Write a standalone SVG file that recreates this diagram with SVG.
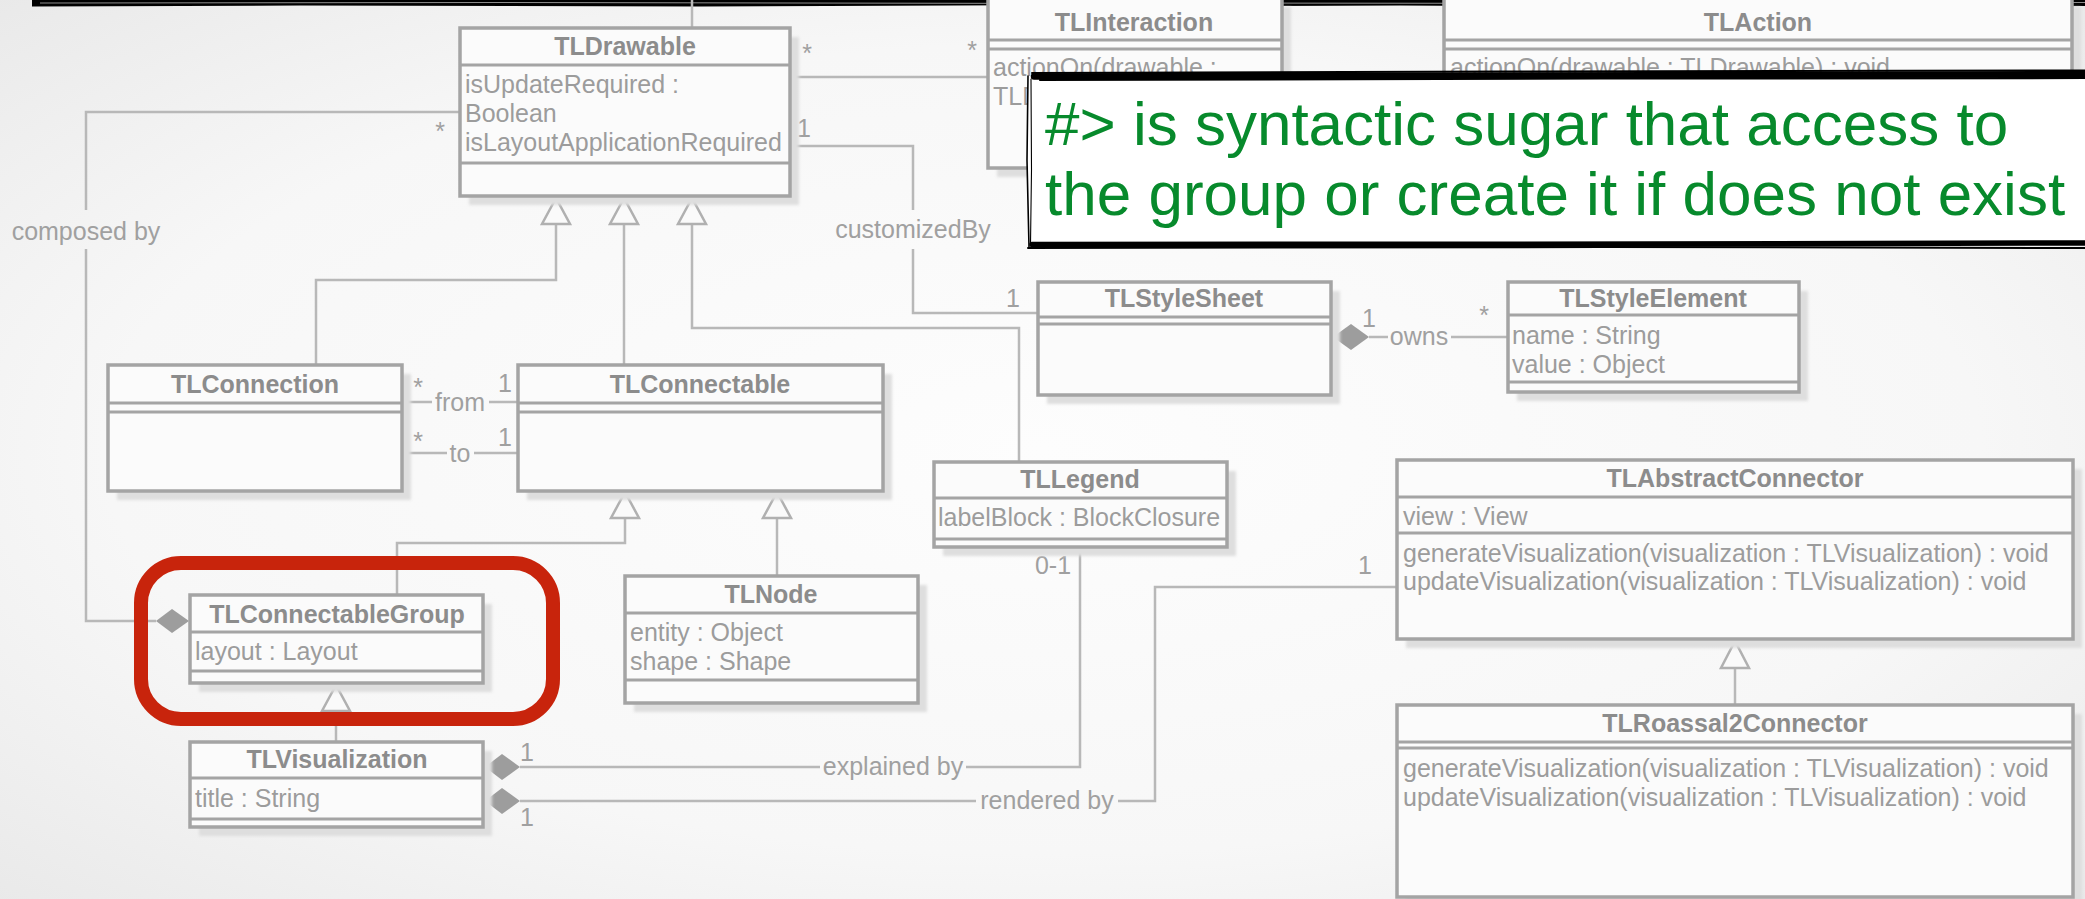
<svg xmlns="http://www.w3.org/2000/svg" width="2085" height="899" viewBox="0 0 2085 899">
<defs>
  <radialGradient id="bg" cx="0.5" cy="0.5" r="0.75">
    <stop offset="0" stop-color="#fdfdfd"/>
    <stop offset="0.6" stop-color="#f7f7f7"/>
    <stop offset="1" stop-color="#e7e7e7"/>
  </radialGradient>
  <filter id="soft" x="-5%" y="-5%" width="110%" height="110%">
    <feGaussianBlur stdDeviation="1.5"/>
  </filter>
  <style>
    .shadow{fill:#dedede;filter:url(#soft)}
    .box{fill:#fbfbfb;stroke:#a4a4a4;stroke-width:3.5}
    .sep{stroke:#a4a4a4;stroke-width:3}
    .title{font-family:'Liberation Sans',Arial,sans-serif;font-weight:bold;font-size:25px;fill:#8c8c8c;text-anchor:middle}
    .attr{font-family:'Liberation Sans',Arial,sans-serif;font-size:25px;fill:#9c9c9c}
    .lbl{font-family:'Liberation Sans',Arial,sans-serif;font-size:25px;fill:#a0a0a0;text-anchor:middle}
    .wire{fill:none;stroke:#b8b8b8;stroke-width:2.5}
    .tri{fill:#fafafa;stroke:#b0b0b0;stroke-width:2.5}
    .dia{fill:#9d9d9d}
    .ink{fill:none;stroke:#000;stroke-linecap:round}
    .note{font-family:'Liberation Sans',Arial,sans-serif;font-size:62px;fill:#078a2c}
  </style>
</defs>

<rect width="2085" height="899" fill="url(#bg)"/>

<!-- sketchy edge of the frame above -->
<g id="frame-edge">
  <path d="M32,0 H1099 L1099,5 L700,6.5 L300,5.5 L32,6.5 Z" fill="#000"/>
  <path d="M1149,0 H2085 V6 L1700,7 L1400,5.5 L1149,6.5 Z" fill="#000"/>
  <path d="M40,3 L500,2.5 L1090,3.5" stroke="#fff" stroke-width="0.8" fill="none" opacity="0.7"/>
  <path d="M1160,3 L1700,3.5 L2085,2.5" stroke="#fff" stroke-width="0.8" fill="none" opacity="0.7"/>
</g>

<!-- associations, generalizations and their labels -->
<g id="connectors">
  <path class="wire" d="M790,77 H988"/>
  <path class="wire" d="M692,28 V0"/>
  <path class="wire" d="M460,112 H86 V210 M86,249 V621 H156"/>
  <path class="wire" d="M790,146 H913 V210 M913,249 V313 H1038"/>
  <path class="wire" d="M556,224 V280 H316 V365"/>
  <path class="wire" d="M624,224 V365"/>
  <path class="wire" d="M692,224 V328 H1019 V462"/>
  <path class="wire" d="M402,402 H432 M489,402 H518"/>
  <path class="wire" d="M402,453 H447 M474,453 H518"/>
  <path class="wire" d="M1369,337 H1388 M1451,337 H1508"/>
  <path class="wire" d="M625,518 V543 H397 V595"/>
  <path class="wire" d="M777,518 V576"/>
  <path class="wire" d="M336,711 V742"/>
  <path class="wire" d="M520,767 H820 M966,767 H1080 V547"/>
  <path class="wire" d="M520,801 H976 M1118,801 H1155 V587 H1397"/>
  <path class="wire" d="M1735,668 V705"/>

  <polygon class="tri" points="556,198 542,224 570,224"/>
  <polygon class="tri" points="624,198 610,224 638,224"/>
  <polygon class="tri" points="692,198 678,224 706,224"/>
  <polygon class="tri" points="625,492 611,518 639,518"/>
  <polygon class="tri" points="777,492 763,518 791,518"/>
  <polygon class="tri" points="336,685 322,711 350,711"/>
  <polygon class="tri" points="1735,641 1721,668 1749,668"/>

  <polygon class="dia" points="156,621 172,609 189,621 172,633"/>
  <polygon class="dia" points="1333,337 1351,324 1369,337 1351,350"/>
  <polygon class="dia" points="485,767 502,754 520,767 502,780"/>
  <polygon class="dia" points="485,801 502,788 520,801 502,814"/>

  <text class="lbl" x="807" y="62">*</text>
  <text class="lbl" x="972" y="59">*</text>
  <text class="lbl" x="440" y="140">*</text>
  <text class="lbl" x="804" y="137">1</text>
  <text class="lbl" x="86" y="240">composed by</text>
  <text class="lbl" x="913" y="238">customizedBy</text>
  <text class="lbl" x="1013" y="307">1</text>
  <text class="lbl" x="418" y="396">*</text>
  <text class="lbl" x="505" y="392">1</text>
  <text class="lbl" x="460" y="411">from</text>
  <text class="lbl" x="418" y="450">*</text>
  <text class="lbl" x="505" y="446">1</text>
  <text class="lbl" x="460" y="462">to</text>
  <text class="lbl" x="1369" y="327">1</text>
  <text class="lbl" x="1484" y="324">*</text>
  <text class="lbl" x="1419" y="345">owns</text>
  <text class="lbl" x="1053" y="574">0-1</text>
  <text class="lbl" x="1365" y="574">1</text>
  <text class="lbl" x="527" y="761">1</text>
  <text class="lbl" x="527" y="826">1</text>
  <text class="lbl" x="893" y="775">explained by</text>
  <text class="lbl" x="1047" y="809">rendered by</text>
</g>

<g id="TLDrawable">
  <rect class="shadow" x="469" y="37" width="330" height="168"/>
  <rect class="box" x="460" y="28" width="330" height="168"/>
  <line class="sep" x1="460" y1="65" x2="790" y2="65"/>
  <line class="sep" x1="460" y1="163" x2="790" y2="163"/>
  <text class="title" x="625" y="55">TLDrawable</text>
  <text class="attr" x="465" y="93">isUpdateRequired :</text>
  <text class="attr" x="465" y="122">Boolean</text>
  <text class="attr" x="465" y="151">isLayoutApplicationRequired</text>
</g>

<g id="TLInteraction">
  <rect class="shadow" x="997" y="7" width="294" height="170"/>
  <rect class="box" x="988" y="-2" width="294" height="170"/>
  <line class="sep" x1="988" y1="40" x2="1282" y2="40"/>
  <line class="sep" x1="988" y1="49" x2="1282" y2="49"/>
  <text class="title" x="1134" y="31">TLInteraction</text>
  <text class="attr" x="993" y="76">actionOn(drawable :</text>
  <text class="attr" x="993" y="105">TLD</text>
</g>

<g id="TLAction">
  <rect class="shadow" x="1453" y="7" width="628" height="170"/>
  <rect class="box" x="1444" y="-2" width="628" height="170"/>
  <line class="sep" x1="1444" y1="40" x2="2072" y2="40"/>
  <line class="sep" x1="1444" y1="49" x2="2072" y2="49"/>
  <text class="title" x="1758" y="31">TLAction</text>
  <text class="attr" x="1450" y="76">actionOn(drawable : TLDrawable) : void</text>
</g>

<g id="TLConnection">
  <rect class="shadow" x="117" y="374" width="294" height="126"/>
  <rect class="box" x="108" y="365" width="294" height="126"/>
  <line class="sep" x1="108" y1="403" x2="402" y2="403"/>
  <line class="sep" x1="108" y1="412" x2="402" y2="412"/>
  <text class="title" x="255" y="393">TLConnection</text>
</g>

<g id="TLConnectable">
  <rect class="shadow" x="527" y="374" width="365" height="126"/>
  <rect class="box" x="518" y="365" width="365" height="126"/>
  <line class="sep" x1="518" y1="403" x2="883" y2="403"/>
  <line class="sep" x1="518" y1="412" x2="883" y2="412"/>
  <text class="title" x="700" y="393">TLConnectable</text>
</g>

<g id="TLStyleSheet">
  <rect class="shadow" x="1047" y="291" width="293" height="113"/>
  <rect class="box" x="1038" y="282" width="293" height="113"/>
  <line class="sep" x1="1038" y1="317" x2="1331" y2="317"/>
  <line class="sep" x1="1038" y1="324" x2="1331" y2="324"/>
  <text class="title" x="1184" y="307">TLStyleSheet</text>
</g>

<g id="TLStyleElement">
  <rect class="shadow" x="1517" y="291" width="291" height="110"/>
  <rect class="box" x="1508" y="282" width="291" height="110"/>
  <line class="sep" x1="1508" y1="315" x2="1799" y2="315"/>
  <line class="sep" x1="1508" y1="382" x2="1799" y2="382"/>
  <text class="title" x="1653" y="307">TLStyleElement</text>
  <text class="attr" x="1512" y="344">name : String</text>
  <text class="attr" x="1512" y="373">value : Object</text>
</g>

<g id="TLLegend">
  <rect class="shadow" x="943" y="471" width="293" height="85"/>
  <rect class="box" x="934" y="462" width="293" height="85"/>
  <line class="sep" x1="934" y1="498" x2="1227" y2="498"/>
  <line class="sep" x1="934" y1="539" x2="1227" y2="539"/>
  <text class="title" x="1080" y="488">TLLegend</text>
  <text class="attr" x="938" y="526">labelBlock : BlockClosure</text>
</g>

<g id="TLAbstractConnector">
  <rect class="shadow" x="1406" y="469" width="676" height="179"/>
  <rect class="box" x="1397" y="460" width="676" height="179"/>
  <line class="sep" x1="1397" y1="497" x2="2073" y2="497"/>
  <line class="sep" x1="1397" y1="533" x2="2073" y2="533"/>
  <text class="title" x="1735" y="487">TLAbstractConnector</text>
  <text class="attr" x="1403" y="525">view : View</text>
  <text class="attr" x="1403" y="562">generateVisualization(visualization : TLVisualization) : void</text>
  <text class="attr" x="1403" y="590">updateVisualization(visualization : TLVisualization) : void</text>
</g>

<g id="TLRoassal2Connector">
  <rect class="shadow" x="1406" y="714" width="676" height="192"/>
  <rect class="box" x="1397" y="705" width="676" height="192"/>
  <line class="sep" x1="1397" y1="742" x2="2073" y2="742"/>
  <line class="sep" x1="1397" y1="748" x2="2073" y2="748"/>
  <text class="title" x="1735" y="732">TLRoassal2Connector</text>
  <text class="attr" x="1403" y="777">generateVisualization(visualization : TLVisualization) : void</text>
  <text class="attr" x="1403" y="806">updateVisualization(visualization : TLVisualization) : void</text>
</g>

<g id="TLNode">
  <rect class="shadow" x="634" y="585" width="293" height="127"/>
  <rect class="box" x="625" y="576" width="293" height="127"/>
  <line class="sep" x1="625" y1="613" x2="918" y2="613"/>
  <line class="sep" x1="625" y1="680" x2="918" y2="680"/>
  <text class="title" x="771" y="603">TLNode</text>
  <text class="attr" x="630" y="641">entity : Object</text>
  <text class="attr" x="630" y="670">shape : Shape</text>
</g>

<g id="TLConnectableGroup">
  <rect class="shadow" x="199" y="604" width="293" height="88"/>
  <rect class="box" x="190" y="595" width="293" height="88"/>
  <line class="sep" x1="190" y1="632" x2="483" y2="632"/>
  <line class="sep" x1="190" y1="671" x2="483" y2="671"/>
  <text class="title" x="337" y="623">TLConnectableGroup</text>
  <text class="attr" x="195" y="660">layout : Layout</text>
</g>

<g id="TLVisualization">
  <rect class="shadow" x="199" y="751" width="293" height="85"/>
  <rect class="box" x="190" y="742" width="293" height="85"/>
  <line class="sep" x1="190" y1="778" x2="483" y2="778"/>
  <line class="sep" x1="190" y1="819" x2="483" y2="819"/>
  <text class="title" x="337" y="768">TLVisualization</text>
  <text class="attr" x="195" y="807">title : String</text>
</g>

<!-- highlight ring around the group class -->
<g id="highlight">
  <rect x="141" y="563" width="412" height="156" rx="40" ry="40" fill="none" stroke="#c8240c" stroke-width="14"/>
</g>

<!-- hand-drawn note -->
<g id="note">
  <path d="M1028,76 L2085,73 L2085,244 L1028,246 Z" fill="#fff"/>
  <path class="ink" stroke-width="6.5" d="M1034,76.5 C1300,74 1700,76.5 2085,74"/>
  <path class="ink" stroke-width="2" d="M1032,73 L1500,71.5 L2085,70.5"/>
  <path class="ink" stroke-width="2.2" d="M1040,80 L1600,78.5 L2085,78"/>
  <path class="ink" stroke-width="5.5" d="M1032,244.5 C1400,243 1700,246 2085,243"/>
  <path class="ink" stroke-width="2" d="M1028,248 L1600,247 L2085,248"/>
  <path class="ink" stroke-width="1.6" d="M1028,76 L1027,160 L1029,247"/>
  <path class="ink" stroke-width="1.1" d="M1031,79 L1031.5,170 L1030.5,244"/>
  <text class="note" x="1045" y="145">#&gt; is syntactic sugar that access to</text>
  <text class="note" x="1045" y="215">the group or create it if does not exist</text>
</g>
</svg>
